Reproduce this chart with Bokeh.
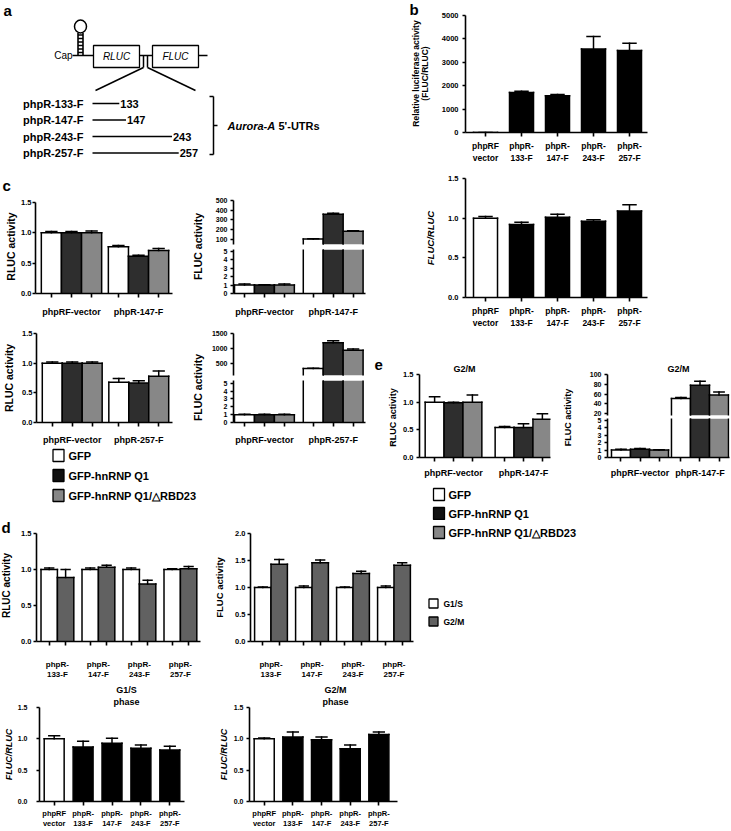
import math
from bokeh.plotting import figure
from bokeh.layouts import row, column
from bokeh.models import Range1d, FixedTicker, Spacer, PrintfTickFormatter, Title
from bokeh.core.properties import value
from bokeh.embed import file_html
from bokeh.resources import INLINE

FONT = "Liberation Sans"
BLACK = "#000000"
WHITE = "#ffffff"
Q1_COLOR = "#2e2e2e"
Q1_KEY = "#111111"
RBD_COLOR = "#878787"
G2M_COLOR = "#616161"

# ------------------------------------------------------------------ data
utr_constructs = ["phpR-133-F", "phpR-147-F", "phpR-243-F", "phpR-257-F"]
utr_lengths = [133, 147, 243, 257]

b_labels = ["phpRF\nvector", "phpR-\n133-F", "phpR-\n147-F", "phpR-\n243-F", "phpR-\n257-F"]
b_rel_activity = [1, 1710, 1570, 3570, 3500]
b_rel_err = [0, 50, 50, 530, 310]
b_ratio = [1.00, 0.92, 1.01, 0.96, 1.09]
b_ratio_err = [0.02, 0.03, 0.04, 0.02, 0.08]

c_series = ["GFP", "GFP-hnRNP Q1", "GFP-hnRNP Q1/△RBD23"]
c_groups_147 = ["phpRF-vector", "phpR-147-F"]
c_groups_257 = ["phpRF-vector", "phpR-257-F"]
# rows = series (GFP, Q1, Q1/dRBD23), columns = groups
c147_rluc = [[1.00, 0.77], [1.00, 0.615], [1.00, 0.71]]
c147_rluc_err = [[0.02, 0.02], [0.02, 0.015], [0.03, 0.03]]
c147_fluc = [[1.0, 105], [1.0, 360], [1.0, 185]]
c147_fluc_err = [[0.12, 3], [0.05, 8], [0.12, 5]]
c257_rluc = [[1.00, 0.68], [1.00, 0.665], [1.00, 0.78]]
c257_rluc_err = [[0.02, 0.06], [0.02, 0.04], [0.02, 0.09]]
c257_fluc = [[1.0, 330], [1.0, 1190], [1.0, 940]]
c257_fluc_err = [[0.05, 10], [0.05, 70], [0.05, 40]]

e_groups = ["phpRF-vector", "phpR-147-F"]
e_rluc = [[1.00, 0.54], [0.99, 0.54], [1.00, 0.69]]
e_rluc_err = [[0.10, 0.02], [0.01, 0.07], [0.13, 0.10]]
e_fluc = [[1.0, 51], [1.1, 78], [1.0, 58]]
e_fluc_err = [[0.1, 2], [0.1, 8], [0.05, 6]]

d_phases = ["G1/S", "G2/M"]
d_constructs = ["phpR-\n133-F", "phpR-\n147-F", "phpR-\n243-F", "phpR-\n257-F"]
d_rluc = [[1.00, 1.00, 1.00, 1.00], [0.89, 1.03, 0.80, 1.01]]
d_rluc_err = [[0.02, 0.02, 0.02, 0.01], [0.11, 0.03, 0.05, 0.03]]
d_fluc = [[1.00, 1.00, 1.00, 1.00], [1.43, 1.46, 1.26, 1.41]]
d_fluc_err = [[0.01, 0.03, 0.01, 0.03], [0.09, 0.05, 0.04, 0.05]]
d_ratio_g1s = [1.00, 0.87, 0.93, 0.85, 0.82]
d_ratio_g1s_err = [0.05, 0.09, 0.08, 0.05, 0.06]
d_ratio_g2m = [1.00, 1.03, 0.985, 0.84, 1.07]
d_ratio_g2m_err = [0.015, 0.08, 0.045, 0.06, 0.04]


# ------------------------------------------------------------------ geometry helpers
def LX(x):
    return int(round(x))


def LY(y):
    return int(round(y))


class Box:
    def __init__(self, rect, frame=None, xr=None, yr=None, xaxis=False, yaxis=False):
        fx0, fy0, fx1, fy1 = rect
        if frame is None:
            frame = rect
        if xr is None:
            xr = (fx0, fx1)
        if yr is None:
            yr = (fy1, fy0)
        x0, y0, x1, y1 = frame
        self.frame, self.xr, self.yr = frame, xr, yr
        p = figure(width=LX(fx1) - LX(fx0), height=LY(fy1) - LY(fy0),
                   x_range=Range1d(*xr), y_range=Range1d(*yr),
                   min_border_left=LX(x0) - LX(fx0), min_border_right=LX(fx1) - LX(x1),
                   min_border_top=LY(y0) - LY(fy0), min_border_bottom=LY(fy1) - LY(y1),
                   x_axis_type="linear" if xaxis else None,
                   y_axis_type="linear" if yaxis else None,
                   frame_align=False,
                   toolbar_location=None, output_backend="svg")
        p.outline_line_color = None
        p.background_fill_color = WHITE
        p.border_fill_color = WHITE
        p.grid.visible = False
        self.p = p

    def text(self, xs, ys, texts, size, align="left", style="bold", angle=0.0):
        self.p.text(x=xs, y=ys, text=texts, text_font=value(FONT), text_font_size=size,
                    text_font_style=style, text_align=align, text_baseline="middle",
                    angle=angle, text_color=BLACK)

    def title(self, text, center_px, width_px, standoff=2, size="9px"):
        x0 = self.frame[0]
        self.p.add_layout(Title(text=text, align="left", offset=center_px - width_px / 2.0 - x0,
                                standoff=standoff, text_font=FONT, text_font_size=size,
                                text_font_style="bold", text_color=BLACK), "above")


def base_axis(ax):
    ax.axis_line_width = 1.6
    ax.axis_line_color = BLACK
    ax.major_tick_line_width = 1.6
    ax.minor_tick_line_width = 1.6
    ax.major_tick_line_color = BLACK
    ax.minor_tick_line_color = BLACK
    ax.major_tick_in = 0
    ax.major_tick_out = 3
    ax.minor_tick_in = 0
    ax.minor_tick_out = 0
    ax.major_label_text_font = FONT
    ax.major_label_text_font_style = "bold"
    ax.major_label_text_color = BLACK
    ax.axis_label_text_font = FONT
    ax.axis_label_text_color = BLACK


def set_y(bx, ticks, fmt, size, standoff, label=None, lsize="10px", lstyle="bold", lstand=5):
    ax = bx.p.yaxis[0]
    base_axis(ax)
    ax.ticker = FixedTicker(ticks=ticks)
    ax.formatter = PrintfTickFormatter(format=fmt)
    ax.major_label_text_font_size = size
    ax.major_label_standoff = standoff
    if label:
        ax.axis_label = label
        ax.axis_label_text_font_size = lsize
        ax.axis_label_text_font_style = lstyle
        ax.axis_label_standoff = lstand


def set_x(bx, ticks, labels, size, standoff, minor=None):
    ax = bx.p.xaxis[0]
    base_axis(ax)
    ax.ticker = FixedTicker(ticks=ticks, minor_ticks=minor or [])
    ax.major_label_overrides = {t: l for t, l in zip(ticks, labels)}
    ax.major_label_text_font_size = size
    ax.major_label_standoff = standoff
    if minor:
        ax.major_tick_out = 0
        ax.minor_tick_out = 4
    else:
        ax.major_tick_out = 4


def bars(bx, xs, tops, errs, w, colors, lw=1.5):
    """Bars limited to the box's y range; outline drawn only where visible."""
    p = bx.p
    lo, hi = bx.yr
    if not isinstance(colors, list):
        colors = [colors] * len(xs)
    fx, fb, ft, fc = [], [], [], []
    sx0, sy0, sx1, sy1 = [], [], [], []
    for x, t, e, c in zip(xs, tops, errs, colors):
        if t <= lo:
            continue
        b = max(0, lo)
        tt = min(t, hi)
        fx.append(x); fb.append(b); ft.append(tt); fc.append(c)
        for ex in (x - w / 2.0, x + w / 2.0):
            sx0.append(ex); sy0.append(b); sx1.append(ex); sy1.append(tt)
        if t <= hi:
            sx0.append(x - w / 2.0); sy0.append(t); sx1.append(x + w / 2.0); sy1.append(t)
            top_e = min(t + e, hi)
            sx0.append(x); sy0.append(t); sx1.append(x); sy1.append(top_e)
            if t + e <= hi:
                cw = w * 0.27
                sx0.append(x - cw); sy0.append(t + e); sx1.append(x + cw); sy1.append(t + e)
    if fx:
        p.vbar(x=fx, top=ft, bottom=fb, width=w, fill_color=fc, line_color=None)
        p.segment(x0=sx0, y0=sy0, x1=sx1, y1=sy1, line_color=BLACK, line_width=lw,
                  line_cap="square")


def grouped(bx, vals, errs, colors, w):
    n = len(vals)
    centers = []
    for i in range(n):
        xs = [g + (i - (n - 1) / 2.0) * w for g in range(len(vals[i]))]
        centers += xs
        bars(bx, xs, vals[i], errs[i], w, colors[i])
    return sorted(centers)


C3 = [WHITE, Q1_COLOR, RBD_COLOR]
C2 = [WHITE, G2M_COLOR]
VERT = math.pi / 2

# ------------------------------------------------------------------ band 1: a + b top
A = Box((0, 0, 372, 166))
pa = A.p
A.text([3], [10], ["a"], "15px")
pa.ellipse(x=[80], y=[26], width=[12], height=[13], fill_color=WHITE, line_color=BLACK, line_width=1.5)
pa.segment(x0=[77.5, 82.5], y0=[32.5, 32.5], x1=[77.5, 82.5], y1=[55, 55], line_color=BLACK, line_width=1.6)
rung_y = [34.5, 38, 41.5, 45, 48.5, 52]
pa.segment(x0=[77.5] * len(rung_y), y0=rung_y, x1=[82.5] * len(rung_y), y1=rung_y,
           line_color=BLACK, line_width=1.6)
pa.segment(x0=[72, 139, 198], y0=[55, 55, 55], x1=[93, 152, 207], y1=[55, 55, 55],
           line_color=BLACK, line_width=1.5)
pa.quad(left=[93, 152], right=[139, 198], top=[45, 45], bottom=[67, 67],
        fill_color=WHITE, line_color=BLACK, line_width=1.3)
A.text([72], [55], ["Cap"], "10px", align="right", style="normal")
A.text([116, 175], [56, 56], ["RLUC", "FLUC"], "10px", align="center", style="italic")
pa.segment(x0=[143, 147, 143, 147], y0=[55, 55, 67, 67], x1=[143, 147, 95, 195], y1=[67, 67, 90, 90],
           line_color=BLACK, line_width=1.5)
row_y = [103, 119.5, 136, 152.5]
utr_end = [148.5 + 0.479 * (v - 195) for v in utr_lengths]
A.text([83] * 4, row_y, utr_constructs, "11px", align="right")
pa.segment(x0=[92] * 4, y0=row_y, x1=utr_end, y1=row_y, line_color=BLACK, line_width=1.5)
A.text([e + 1 for e in utr_end], row_y, [str(v) for v in utr_lengths], "11px")
pa.segment(x0=[213, 209, 209, 213], y0=[96, 96, 154, 125], x1=[213, 213, 213, 217], y1=[154, 96, 154, 125],
           line_color=BLACK, line_width=1.5)
A.text([227], [125], ["Aurora-A"], "11px", style="bold italic")
A.text([278], [125], ["5'-UTRs"], "11px")

s_b = Box((372, 0, 432, 166))
s_b.text([409], [9], ["b"], "15px")
s_b.text([415, 424], [73, 73], ["Relative luciferase activity", "(FLUC/RLUC)"], "8.5px",
         align="center", angle=VERT)

Bt = Box((432, 0, 731, 166), (465, 15, 647, 132), (-0.556, 4.5), (0, 5000), True, True)
bars(Bt, list(range(5)), b_rel_activity, b_rel_err, 0.667, BLACK)
set_y(Bt, [0, 1000, 2000, 3000, 4000, 5000], "%d", "7.5px", 4)
set_x(Bt, list(range(5)), b_labels, "8.5px", 4)

B1 = row(A.p, s_b.p, Bt.p)

# ------------------------------------------------------------------ band 2: c top + b bottom
s_c = Box((0, 166, 18, 330))
s_c.text([2], [185], ["c"], "15px")
s_c.text([10], [246], ["RLUC activity"], "10.5px", align="center", angle=VERT)

c_tl = Box((18, 166, 190, 330), (35, 202, 172, 293), (-0.537, 1.507), (0, 1.5), True, True)
mc = grouped(c_tl, c147_rluc, c147_rluc_err, C3, 0.3)
set_y(c_tl, [0, 0.5, 1.0, 1.5], "%.1f", "7.5px", 1)
set_x(c_tl, [0, 1], c_groups_147, "9px", 9, mc)

s_ctr = Box((190, 166, 206, 330))
s_ctr.text([197], [246], ["FLUC activity"], "10.5px", align="center", angle=VERT)

c_tr_up = Box((206, 166, 372, 246.5), (233, 200, 365, 244), (-0.45, 1.47), (48, 500), False, True)
grouped(c_tr_up, c147_fluc, c147_fluc_err, C3, 0.29)
set_y(c_tr_up, [100, 200, 300, 400, 500], "%d", "7px", 3)
c_tr_lo = Box((206, 246.5, 372, 330), (233, 249, 365, 293), (-0.45, 1.47), (0, 5.24), True, True)
mc2 = grouped(c_tr_lo, c147_fluc, c147_fluc_err, C3, 0.29)
set_y(c_tr_lo, [0, 1, 2, 3, 4, 5], "%d", "7px", 3)
set_x(c_tr_lo, [0, 1], c_groups_147, "9px", 9, mc2)

Bb = Box((372, 166, 731, 330), (465, 178.5, 647, 297), (-0.556, 4.5), (0, 1.5), True, True)
bars(Bb, list(range(5)), b_ratio, b_ratio_err, 0.667, [WHITE, BLACK, BLACK, BLACK, BLACK])
set_y(Bb, [0, 0.5, 1.0, 1.5], "%.1f", "7.5px", 4, "FLUC/RLUC", "9.5px", "bold italic", 9)
set_x(Bb, list(range(5)), b_labels, "8.5px", 4)

B2 = row(s_c.p, c_tl.p, s_ctr.p, column(c_tr_up.p, c_tr_lo.p), Bb.p)

# ------------------------------------------------------------------ band 3: c bottom + legend, e
c_bl = Box((0, 330, 190, 447), (35, 333, 172, 425), (-0.537, 1.507), (0, 1.5), True, True)
mc3 = grouped(c_bl, c257_rluc, c257_rluc_err, C3, 0.3)
set_y(c_bl, [0, 0.5, 1.0, 1.5], "%.1f", "7.5px", 1, "RLUC activity", "10.5px", "bold", 4)
set_x(c_bl, [0, 1], c_groups_257, "9px", 8, mc3)

s_cbr = Box((190, 330, 206, 447))
s_cbr.text([197], [387], ["FLUC activity"], "10.5px", align="center", angle=VERT)

c_br_up = Box((206, 330, 372, 377), (233, 333, 365, 375), (-0.45, 1.47), (100, 1500), False, True)
grouped(c_br_up, c257_fluc, c257_fluc_err, C3, 0.29)
set_y(c_br_up, [500, 1000, 1500], "%d", "7px", 3)
c_br_lo = Box((206, 377, 372, 447), (233, 380, 365, 426), (-0.45, 1.47), (0, 5.35), True, True)
mc4 = grouped(c_br_lo, c257_fluc, c257_fluc_err, C3, 0.29)
set_y(c_br_lo, [0, 1, 2, 3, 4, 5], "%d", "7px", 3)
set_x(c_br_lo, [0, 1], c_groups_257, "9px", 8, mc4)

legC = Box((0, 447, 372, 520))
leg_y_c = [455, 475, 495]
legC.p.rect(x=[58] * 3, y=leg_y_c, width=11, height=12, fill_color=[WHITE, Q1_KEY, RBD_COLOR],
            line_color=BLACK, line_width=1.3)
legC.text([68] * 3, leg_y_c, c_series, "11px")

s_e = Box((372, 330, 400, 480))
s_e.text([374], [364], ["e"], "15px")
s_e.text([392], [417], ["RLUC activity"], "9px", align="center", angle=VERT)

e_rl = Box((400, 330, 560, 480), (419, 374, 550, 459), (-0.486, 1.386), (0, 1.5), True, True)
me = grouped(e_rl, e_rluc, e_rluc_err, C3, 0.27)
set_y(e_rl, [0, 0.5, 1.0, 1.5], "%.1f", "7.5px", 3)
set_x(e_rl, [0, 1], e_groups, "9px", 6, me)
e_rl.title("G2/M", 464, 22)

s_efl = Box((560, 330, 576, 480))
s_efl.text([567], [417], ["FLUC activity"], "9px", align="center", angle=VERT)

e_fl_up = Box((576, 330, 731, 416.5), (607, 374, 729, 415), (-0.542, 1.492), (16, 100), False, True)
grouped(e_fl_up, e_fluc, e_fluc_err, C3, 0.317)
set_y(e_fl_up, [20, 40, 60, 80, 100], "%d", "7px", 3)
e_fl_up.title("G2/M", 678, 22)
e_fl_lo = Box((576, 416.5, 731, 480), (607, 418, 729, 459), (-0.542, 1.492), (0, 5.26), True, True)
me2 = grouped(e_fl_lo, e_fluc, e_fluc_err, C3, 0.317)
set_y(e_fl_lo, [0, 1, 2, 3, 4, 5], "%d", "7px", 3)
set_x(e_fl_lo, [0, 1], e_groups, "9px", 6, me2)

legE = Box((372, 480, 731, 520))
leg_y_e = [494, 513]
legE.p.rect(x=[438.5] * 2, y=leg_y_e, width=11, height=12, fill_color=[WHITE, Q1_KEY],
            line_color=BLACK, line_width=1.3)
legE.text([448] * 2, leg_y_e, c_series[:2], "11px")

B3 = row(column(row(c_bl.p, s_cbr.p, column(c_br_up.p, c_br_lo.p)), legC.p),
         column(row(s_e.p, e_rl.p, s_efl.p, column(e_fl_up.p, e_fl_lo.p)), legE.p))

# ------------------------------------------------------------------ band 4: d top
s_d = Box((0, 520, 16, 682))
s_d.text([1], [527], ["d"], "15px")
s_d.text([6], [585], ["RLUC activity"], "10px", align="center", angle=VERT)

d_tl = Box((16, 520, 210, 682), (36, 533, 200, 643), (-0.51, 3.49), (0, 1.5), True, True)
md = grouped(d_tl, d_rluc, d_rluc_err, C2, 0.4)
set_y(d_tl, [0, 0.5, 1.0, 1.5], "%.1f", "7.5px", 2)
set_x(d_tl, [0, 1, 2, 3], d_constructs, "8px", 14, md)

d_tr = Box((210, 520, 420, 682), (250, 533, 413, 643), (-0.5, 3.476), (0, 2.0), True, True)
md2 = grouped(d_tr, d_fluc, d_fluc_err, C2, 0.4)
set_y(d_tr, [0, 0.5, 1.0, 1.5, 2.0], "%.1f", "7.5px", 2, "FLUC activity", "9.5px", "bold", 7)
set_x(d_tr, [0, 1, 2, 3], d_constructs, "8px", 14, md2)

legD = Box((420, 520, 731, 682))
legD.p.rect(x=[438.5], y=[532], width=11, height=12, fill_color=[RBD_COLOR], line_color=BLACK, line_width=1.3)
legD.text([448], [532], [c_series[2]], "11px")
leg_y_d = [603, 621]
legD.p.rect(x=[433] * 2, y=leg_y_d, width=9, height=9, fill_color=C2, line_color=BLACK, line_width=1.3)
legD.text([443] * 2, leg_y_d, d_phases, "8.5px")

B4 = row(s_d.p, d_tl.p, d_tr.p, legD.p)

# ------------------------------------------------------------------ band 5: d bottom
RATIO_COLORS = [WHITE, BLACK, BLACK, BLACK, BLACK]
d_bl = Box((0, 682, 215, 831), (36, 706, 184, 805), (-0.508, 4.508), (0, 1.5), True, True)
bars(d_bl, list(range(5)), d_ratio_g1s, d_ratio_g1s_err, 0.69, RATIO_COLORS)
set_y(d_bl, [0, 0.5, 1.0, 1.5], "%.1f", "7px", 9, "FLUC/RLUC", "9px", "bold italic", 1)
set_x(d_bl, list(range(5)), b_labels, "7.5px", 3)
d_bl.title("phase", 123, 26, standoff=1)
d_bl.title(d_phases[0], 123, 20.5, standoff=0)

d_br = Box((215, 682, 420, 831), (246, 706, 397, 805), (-0.513, 4.65), (0, 1.5), True, True)
bars(d_br, list(range(5)), d_ratio_g2m, d_ratio_g2m_err, 0.70, RATIO_COLORS)
set_y(d_br, [0, 0.5, 1.0, 1.5], "%.1f", "7px", 3, "FLUC/RLUC", "9px", "bold italic", 2)
set_x(d_br, list(range(5)), b_labels, "7.5px", 3)
d_br.title("phase", 332, 26, standoff=1)
d_br.title(d_phases[1], 332, 22, standoff=0)

B5 = row(d_bl.p, d_br.p, Spacer(width=LX(731) - LX(420), height=LY(831) - LY(682)))

layout = column(B1, B2, B3, B4, B5)
open("out.html", "w").write(file_html(layout, INLINE))
